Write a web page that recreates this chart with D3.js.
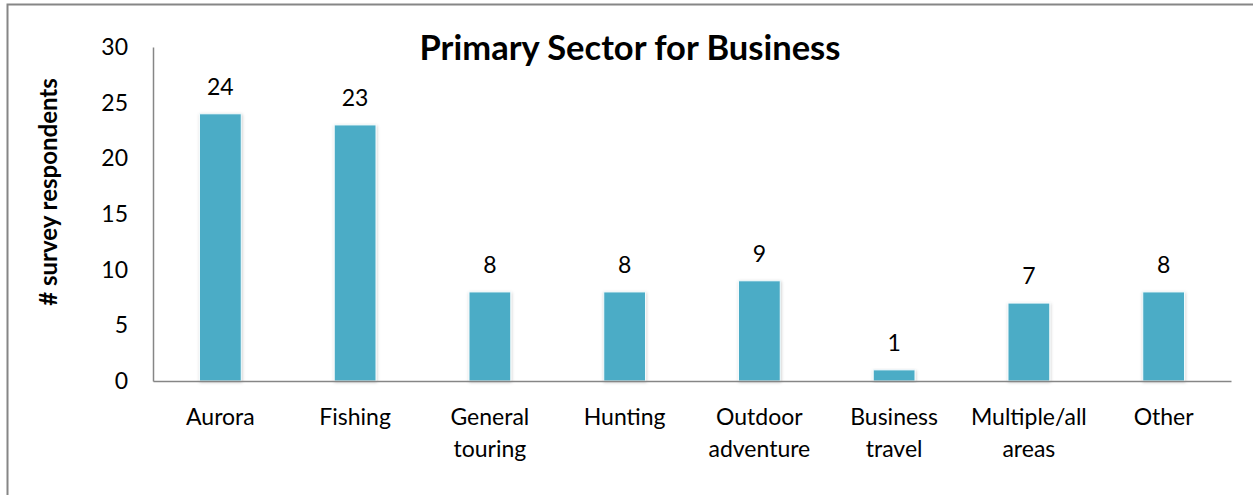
<!DOCTYPE html>
<html><head><meta charset="utf-8">
<script src="https://cdn.jsdelivr.net/npm/d3@7"></script>
<style>body{margin:0;background:#fff}svg{display:block}text{font-family:Lato,"Open Sans",sans-serif}</style>
</head><body>
<svg id="c" width="1253" height="495"></svg>
<script>
const categories = [["Aurora"],["Fishing"],["General","touring"],["Hunting"],["Outdoor","adventure"],["Business","travel"],["Multiple/all","areas"],["Other"]];
const values = [24, 23, 8, 8, 9, 1, 7, 8];
const yTicks = [0, 5, 10, 15, 20, 25, 30];
const title = "Primary Sector for Business";
const yTitle = "# survey respondents";

(function(){
const svg = d3.select("#c");
const defs = svg.append("defs");
const f = defs.append("filter").attr("id","sh").attr("x","-30%").attr("y","-10%").attr("width","160%").attr("height","120%");
f.append("feDropShadow").attr("dx",0.5).attr("dy",1).attr("stdDeviation",1.5).attr("flood-color","#000").attr("flood-opacity",0.22);

svg.append("rect").attr("x",7.5).attr("y",4.5).attr("width",1260).attr("height",500)
  .attr("fill","none").attr("stroke","#868686").attr("stroke-width",2);

const mLeft = 153, mRight = 1231, mTop = 47, mBottom = 381;
const keys = categories.map(c => c.join(" "));
const x = d3.scaleBand().domain(keys).range([mLeft, mRight]).paddingInner(0.69).paddingOuter(0.345);
const y = d3.scaleLinear().domain([0, 30]).range([mBottom, mTop]);

svg.append("g").selectAll("rect").data(values).join("rect")
  .attr("x",(d,i)=>x(keys[i])).attr("width",x.bandwidth())
  .attr("y",d=>y(d)).attr("height",d=>y(0)-y(d))
  .attr("fill","#4BACC6").attr("stroke","#f4fbfd").attr("stroke-width",1)
  .attr("filter","url(#sh)");

const ya = svg.append("g").attr("transform",`translate(${mLeft},0)`)
  .call(d3.axisLeft(y).tickValues(yTicks).tickSize(0).tickPadding(25));
ya.select(".domain").attr("stroke","#868686").attr("stroke-width",1.5);
ya.selectAll("text").attr("font-size",23).attr("fill","#000").attr("font-family","Lato,sans-serif");

const xa = svg.append("g").attr("transform",`translate(0,${mBottom})`)
  .call(d3.axisBottom(x).tickSize(0).tickFormat(""));
xa.select(".domain").attr("stroke","#868686").attr("stroke-width",1.5);

const cl = svg.append("g").selectAll("text").data(categories).join("text")
  .attr("x",(d,i)=>x(keys[i])+x.bandwidth()/2).attr("y",425)
  .attr("text-anchor","middle").attr("font-size",23).attr("fill","#000");
cl.each(function(d){
  const t = d3.select(this);
  d.forEach((s,j)=>t.append("tspan").attr("x",t.attr("x")).attr("dy",j?32:0).text(s));
});

svg.append("g").selectAll("text").data(values).join("text")
  .attr("x",(d,i)=>x(keys[i])+x.bandwidth()/2).attr("y",d=>y(d)-19)
  .attr("text-anchor","middle").attr("font-size",23).attr("fill","#000").text(d=>d);

svg.append("text").attr("x",630).attr("y",60).attr("text-anchor","middle")
  .attr("font-size",34.5).attr("font-weight","bold").attr("fill","#000").text(title);

svg.append("text").attr("transform","translate(57,192) rotate(-90)").attr("text-anchor","middle")
  .attr("font-size",24).attr("font-weight","bold").attr("fill","#000").text(yTitle);
})();
</script>
</body></html>
